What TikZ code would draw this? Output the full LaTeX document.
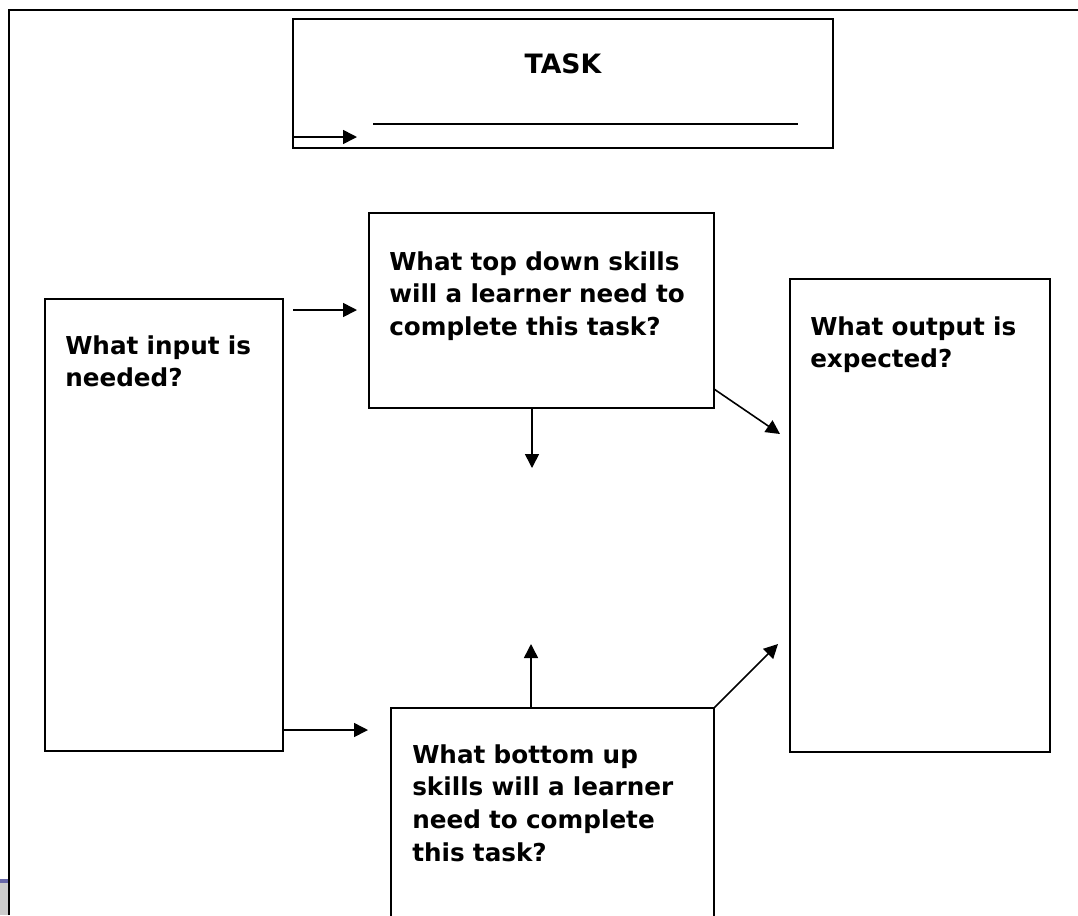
\documentclass[tikz,border=0pt]{standalone}
\usepackage{fontspec}
\setmainfont{DejaVu Sans}
\usetikzlibrary{arrows.meta}
\definecolor{pagegray}{HTML}{CCCCCC}
\definecolor{stripeblue}{HTML}{6868A8}
\begin{document}
\begin{tikzpicture}[x=0.75pt,y=-0.75pt,
  box/.style={draw=black,line width=1.2pt,inner sep=0pt,outer sep=0pt},
  boxtext/.style={anchor=base west,inner sep=0pt,text width=250pt,align=left,
    font=\fontsize{18.5}{24.6}\selectfont\bfseries},
  conn/.style={line width=1.2pt,-{Triangle[length=10.5pt,width=10.5pt]}}]
\clip (0,0) rectangle (1078,915);
\fill[white] (0,0) rectangle (1078,915);
\fill[pagegray] (0,881) rectangle (8,915);
\fill[stripeblue] (0,879) rectangle (8,883);
\draw[line width=1.7pt] (9,915) -- (9,10) -- (1078,10);

% boxes
\node[box,minimum width=405pt,minimum height=96.75pt] (task) at (563,83.5) {};
\node[box,minimum width=258.75pt,minimum height=146.25pt] (topdown) at (541.5,310.5) {};
\node[box,minimum width=178.5pt,minimum height=339pt] (input) at (164,525) {};
\node[box,minimum width=195pt,minimum height=354.75pt] (output) at (920,515.5) {};
\node[box,minimum width=242.25pt,minimum height=174pt] (bottomup) at (552.5,824) {};

% texts
\node[anchor=base,inner sep=0pt,font=\fontsize{20}{24}\selectfont\bfseries] (tasklabel) at (563,73) {TASK};
\node[boxtext] (inputtext) at (65,354) {What input is\\needed?};
\node[boxtext] (toptext) at (389,270) {What top down skills\\will a learner need to\\complete this task?};
\node[boxtext] (outputtext) at (810,335) {What output is\\expected?};
\node[boxtext] (bottomtext) at (412,763) {What bottom up\\skills will a learner\\need to complete\\this task?};

% underline in task box
\coordinate (ulA) at (373,124);
\coordinate (ulB) at (798,124);
\draw[line width=1.9pt] (ulA) -- (ulB);

% connectors
\coordinate (a1e) at (357,137);
\draw[conn] (task.west |- a1e) -- (a1e);
\coordinate (a2s) at (293,310);
\coordinate (a2e) at (357,310);
\draw[conn] (a2s) -- (a2e);
\coordinate (a3e) at (368,730);
\draw[conn] (input.east |- a3e) -- (a3e);
\coordinate (a4e) at (532,468);
\draw[conn] (topdown.south -| a4e) -- (a4e);
\coordinate (a5e) at (531,644);
\draw[conn] (bottomup.north -| a5e) -- (a5e);
\coordinate (a6s) at (714,389);
\coordinate (a6e) at (780,434);
\draw[conn] (topdown.east |- a6s) -- (a6e);
\coordinate (a7e) at (778,644);
\draw[conn] (bottomup.north east) -- (a7e);
\end{tikzpicture}
\end{document}
